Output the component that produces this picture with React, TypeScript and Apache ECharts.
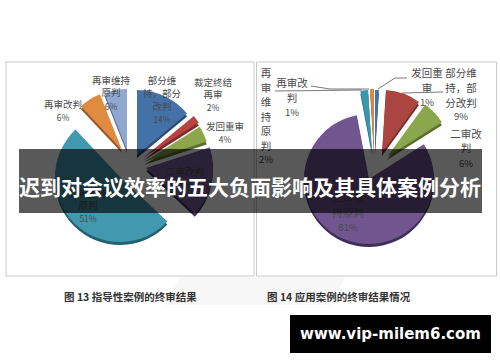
import React, { useEffect, useRef } from "react";
import * as echarts from "echarts";

const FONT = '"Noto Sans CJK SC", "Noto Sans", sans-serif';
const title = "迟到对会议效率的五大负面影响及其具体案例分析";
const website = "www.vip-milem6.com";
const captionLeft = "图 13 指导性案例的终审结果";
const captionRight = "图 14 应用案例的终审结果情况";

// Figure 13
const leftValues = [14, 2, 4, 17, 51, 6, 6];
const leftColors = ["#4472a8", "#b8433f", "#8ba64b", "#75609c", "#4298ae", "#df8b40", "#8fa8d0"];
const leftSides = ["#2c4c74", "#7c2b28", "#5c6e30", "#3d2f58", "#236070", "#96592a", "#5c6e90"];
// Figure 14
const rightValues = [1, 9, 6, 81, 2, 1];
const rightColors = ["#3f74ac", "#ab4542", "#8ba74d", "#70558f", "#3798ae", "#dd873a"];
const rightSides = ["#284c74", "#752d2b", "#5c6e30", "#3f2f58", "#226070", "#96592a"];

type Place = { c: [number, number]; r: number };
const leftPlaces: Place[] = [
  { c: [137, 155], r: 65 },
  { c: [143, 158], r: 66 },
  { c: [144, 162], r: 66 },
  { c: [146, 168], r: 67 },
  { c: [120, 177], r: 65 },
  { c: [122, 150], r: 60 },
  { c: [127, 150], r: 61 },
];
const rightPlaces: Place[] = [
  { c: [375, 152], r: 62 },
  { c: [382, 153], r: 63 },
  { c: [387, 157], r: 65 },
  { c: [369, 179], r: 65 },
  { c: [372, 152], r: 62 },
  { c: [374, 152], r: 63 },
];

function slices(values: number[], colors: string[], sides: string[], places: Place[]) {
  const series: any[] = [];
  const sideDepth = 3;
  const make = (v: number, at: number, color: string, place: Place, dy: number, z: number) => ({
    type: "pie",
    silent: true,
    z,
    center: [place.c[0], place.c[1] + dy],
    radius: [0, place.r],
    startAngle: 90 - (at / 100) * 360,
    clockwise: true,
    label: { show: false },
    labelLine: { show: false },
    itemStyle: { borderWidth: 0 },
    data: [
      { value: v, itemStyle: { color } },
      { value: 100 - v, itemStyle: { color: "transparent" } },
    ],
  });
  let at = 0;
  values.forEach((v, i) => {
    series.push(make(v, at, sides[i], places[i], sideDepth, 2));
    series.push(make(v, at, colors[i], places[i], 0, 3));
    at += v;
  });
  return series;
}

const label = (lines: string[], x: number, ys: number[], size: number) =>
  lines.map((t, i) => ({
    type: "text",
    z: 50,
    x,
    y: ys[i],
    silent: true,
    style: {
      text: t,
      font: `${t.endsWith("%") ? size - 1 : size}px ${FONT}`,
      fill: "#4a4a4a",
      textAlign: "center",
      textVerticalAlign: "middle",
    },
  }));

const line = (points: number[][]) => ({
  type: "polyline",
  z: 40,
  silent: true,
  shape: { points },
  style: { stroke: "#555", lineWidth: 0.8, fill: "none" },
});

export default function App() {
  const ref = useRef<HTMLDivElement>(null);
  useEffect(() => {
    const chart = echarts.init(ref.current!, undefined, { renderer: "svg", width: 500, height: 362 });
    chart.setOption({
      animation: false,
      backgroundColor: "#ffffff",
      series: [
        ...slices(leftValues, leftColors, leftSides, leftPlaces),
        ...slices(rightValues, rightColors, rightSides, rightPlaces),
      ],
      graphic: [
        { type: "rect", z: -5, silent: true, shape: { x: 6, y: 62, width: 248, height: 214 }, style: { fill: "#fff", stroke: "#c8c8c8", lineWidth: 1 } },
        { type: "rect", z: -5, silent: true, shape: { x: 256.5, y: 62, width: 240, height: 214 }, style: { fill: "#fff", stroke: "#c8c8c8", lineWidth: 1 } },
        { type: "polygon", z: -6, silent: true, shape: { points: [[180, 277], [345, 277], [330, 305], [165, 305]] }, style: { fill: "#f7f7f7" } },

        line([[275, 91], [362, 90]]),
        line([[311, 86], [330, 89], [369, 89]]),
        line([[407, 78], [395, 78], [378, 89]]),
        line([[402, 93], [443, 92]]),

        ...label(["再审维持", "原判", "6%"], 111, [80, 92, 106], 9.5),
        ...label(["部分维", "持，部分", "改判", "14%"], 162, [80, 93, 106, 119], 9.5),
        ...label(["裁定终结", "再审", "2%"], 213, [82, 94, 107], 9.5),
        ...label(["发回重审", "4%"], 225, [126, 139], 9.5),
        ...label(["再审改判", "6%"], 63, [104, 117], 9.5),
        ...label(["二审改判", "17%"], 185, [171, 184], 9.5),
        ...label(["二审维持", "原判", "51%"], 88, [193, 205, 218], 9.5),

        ...label(["再", "审", "维", "持", "原", "判", "2%"], 266, [72, 87, 101, 116, 130, 145, 159], 10.5),
        ...label(["再审改", "判", "1%"], 292, [82, 97, 112], 10.5),
        ...label(["发回重", "审", "1%"], 427, [72, 87, 102], 10.5),
        ...label(["部分维", "持，部", "分改判", "9%"], 461, [72, 87, 102, 116], 10.5),
        ...label(["二审改", "判", "6%"], 466, [133, 147, 163], 10.5),
        ...label(["二审维", "持原判", "81%"], 348, [197, 212, 227], 10.5),

        { type: "rect", z: 100, silent: true, shape: { x: 19, y: 149, width: 463, height: 64 }, style: { fill: "rgba(0,0,0,0.65)" } },
        { type: "text", z: 101, silent: true, x: 250, y: 186, style: { text: title, font: `bold 21px ${FONT}`, fill: "#ffffff", textAlign: "center", textVerticalAlign: "middle" } },

        { type: "text", z: 60, silent: true, x: 64, y: 296, style: { text: captionLeft, font: `bold 10.5px ${FONT}`, fill: "#333", textAlign: "left", textVerticalAlign: "middle" } },
        { type: "text", z: 60, silent: true, x: 267, y: 296, style: { text: captionRight, font: `bold 10.5px ${FONT}`, fill: "#333", textAlign: "left", textVerticalAlign: "middle" } },

        { type: "rect", z: 100, silent: true, shape: { x: 290, y: 315, width: 201, height: 38 }, style: { fill: "#000" } },
        { type: "text", z: 101, silent: true, x: 390.5, y: 334, style: { text: website, font: `bold 15px "DejaVu Sans", sans-serif`, fill: "#ffffff", textAlign: "center", textVerticalAlign: "middle" } },
      ],
    });
    return () => chart.dispose();
  }, []);
  return <div ref={ref} style={{ position: "fixed", left: 0, top: 0, width: 500, height: 362 }} />;
}
